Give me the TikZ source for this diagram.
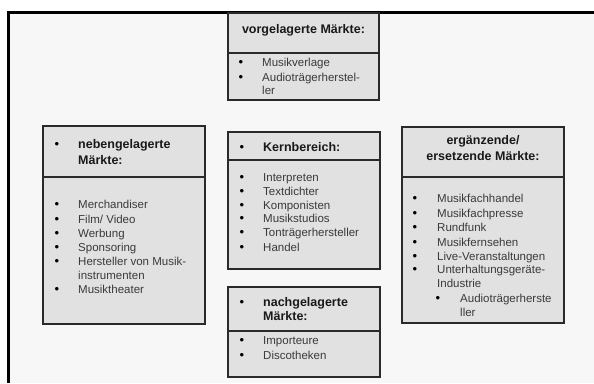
\documentclass[tikz,border=0pt]{standalone}
\usepackage{fontspec}
\setmainfont{Liberation Sans}
\definecolor{framebg}{HTML}{F7F7F7}
\definecolor{boxfill}{HTML}{E1E1E1}
\definecolor{bordercol}{HTML}{2A2A2A}
\definecolor{txtcol}{HTML}{3A3A3A}
\begin{document}
\begin{tikzpicture}[x=1pt,y=-1pt,
  mbox/.style={draw=bordercol, line width=1.6pt, fill=boxfill, inner sep=0pt},
  divider/.style={draw=bordercol, line width=1.8pt},
  itm/.style={inner sep=0pt, anchor=base west, font=\fontsize{11.5}{13}\selectfont, text=txtcol},
  bul/.style={inner sep=0pt, anchor=base, font=\fontsize{13}{13}\selectfont, text=black},
  hdr/.style={inner sep=0pt, anchor=base west, font=\fontsize{12.5}{14}\selectfont\bfseries, text=black!90},
  hdrc/.style={inner sep=0pt, anchor=base, font=\fontsize{12.5}{14}\selectfont\bfseries, text=black!90}]
\useasboundingbox (0,0) rectangle (594,383);
\fill[white] (0,0) rectangle (594,383);
\fill[framebg] (8,12) rectangle (594,383);
\draw[black, line width=3pt] (7,12.5) -- (594,12.5);
\draw[black, line width=3pt] (8.5,11) -- (8.5,383);

% boxes
\node[mbox, minimum width=151pt, minimum height=87pt] (top) at (303.5,56.5) {};
\node[mbox, minimum width=162pt, minimum height=198pt] (left) at (124,225) {};
\node[mbox, minimum width=152pt, minimum height=137pt] (kern) at (304,200.5) {};
\node[mbox, minimum width=162pt, minimum height=196pt] (right) at (483,225) {};
\node[mbox, minimum width=152pt, minimum height=90pt] (nach) at (304,332) {};

% dividers
\draw[divider] (top.west |- 0,53) -- (top.east |- 0,53);
\draw[divider] (left.west |- 0,177) -- (left.east |- 0,177);
\draw[divider] (kern.west |- 0,160) -- (kern.east |- 0,160);
\draw[divider] (right.west |- 0,177) -- (right.east |- 0,177);
\draw[divider] (nach.west |- 0,331) -- (nach.east |- 0,331);

% top box
\node[hdrc] (topH) at (303.5,33) {vorgelagerte Märkte:};
\node[bul] (topB1) at (241,66) {•};
\node[itm] (topT1) at (262,66) {Musikverlage};
\node[bul] (topB2) at (241,81) {•};
\node[itm] (topT2) at (262,81) {Audioträgerherstel-};
\node[itm] (topT3) at (262,94) {ler};

% left box
\node[bul] (leftHB) at (57,148) {•};
\node[hdr] (leftH1) at (78,148) {nebengelagerte};
\node[hdr] (leftH2) at (78,164) {Märkte:};
\node[bul] (leftB1) at (57,208) {•};
\node[itm] (leftT1) at (78,208) {Merchandiser};
\node[bul] (leftB2) at (57,223) {•};
\node[itm] (leftT2) at (78,223) {Film/ Video};
\node[bul] (leftB3) at (57,237) {•};
\node[itm] (leftT3) at (78,237) {Werbung};
\node[bul] (leftB4) at (57,251) {•};
\node[itm] (leftT4) at (78,251) {Sponsoring};
\node[bul] (leftB5) at (57,265) {•};
\node[itm] (leftT5) at (78,265) {Hersteller von Musik-};
\node[itm] (leftT6) at (78,279) {instrumenten};
\node[bul] (leftB7) at (57,293) {•};
\node[itm] (leftT7) at (78,293) {Musiktheater};

% Kernbereich
\node[bul] (kernHB) at (242,151) {•};
\node[hdr] (kernH) at (263,151) {Kernbereich:};
\node[bul] (kernB1) at (242,181) {•};
\node[itm] (kernT1) at (263,181) {Interpreten};
\node[bul] (kernB2) at (242,195) {•};
\node[itm] (kernT2) at (263,195) {Textdichter};
\node[bul] (kernB3) at (242,209) {•};
\node[itm] (kernT3) at (263,209) {Komponisten};
\node[bul] (kernB4) at (242,222) {•};
\node[itm] (kernT4) at (263,222) {Musikstudios};
\node[bul] (kernB5) at (242,236) {•};
\node[itm] (kernT5) at (263,236) {Tonträgerhersteller};
\node[bul] (kernB6) at (242,251) {•};
\node[itm] (kernT6) at (263,251) {Handel};

% right box
\node[hdrc] (rightH1) at (483,144) {ergänzende/};
\node[hdrc] (rightH2) at (483,160) {ersetzende Märkte:};
\node[bul] (rightB1) at (415,202) {•};
\node[itm] (rightT1) at (437,202) {Musikfachhandel};
\node[bul] (rightB2) at (415,217) {•};
\node[itm] (rightT2) at (437,217) {Musikfachpresse};
\node[bul] (rightB3) at (415,231) {•};
\node[itm] (rightT3) at (437,231) {Rundfunk};
\node[bul] (rightB4) at (415,246) {•};
\node[itm] (rightT4) at (437,246) {Musikfernsehen};
\node[bul] (rightB5) at (415,260) {•};
\node[itm] (rightT5) at (437,260) {Live-Veranstaltungen};
\node[bul] (rightB6) at (415,273) {•};
\node[itm] (rightT6) at (437,273) {Unterhaltungsgeräte-};
\node[itm] (rightT7) at (437,287) {Industrie};
\node[bul] (rightB8) at (438,302) {•};
\node[itm] (rightT8) at (460,302) {Audioträgerherste};
\node[itm] (rightT9) at (460,316) {ller};

% nachgelagerte
\node[bul] (nachHB) at (242,306) {•};
\node[hdr] (nachH1) at (263,306) {nachgelagerte};
\node[hdr] (nachH2) at (263,320) {Märkte:};
\node[bul] (nachB1) at (242,344) {•};
\node[itm] (nachT1) at (263,344) {Importeure};
\node[bul] (nachB2) at (242,359) {•};
\node[itm] (nachT2) at (263,359) {Discotheken};
\end{tikzpicture}
\end{document}
